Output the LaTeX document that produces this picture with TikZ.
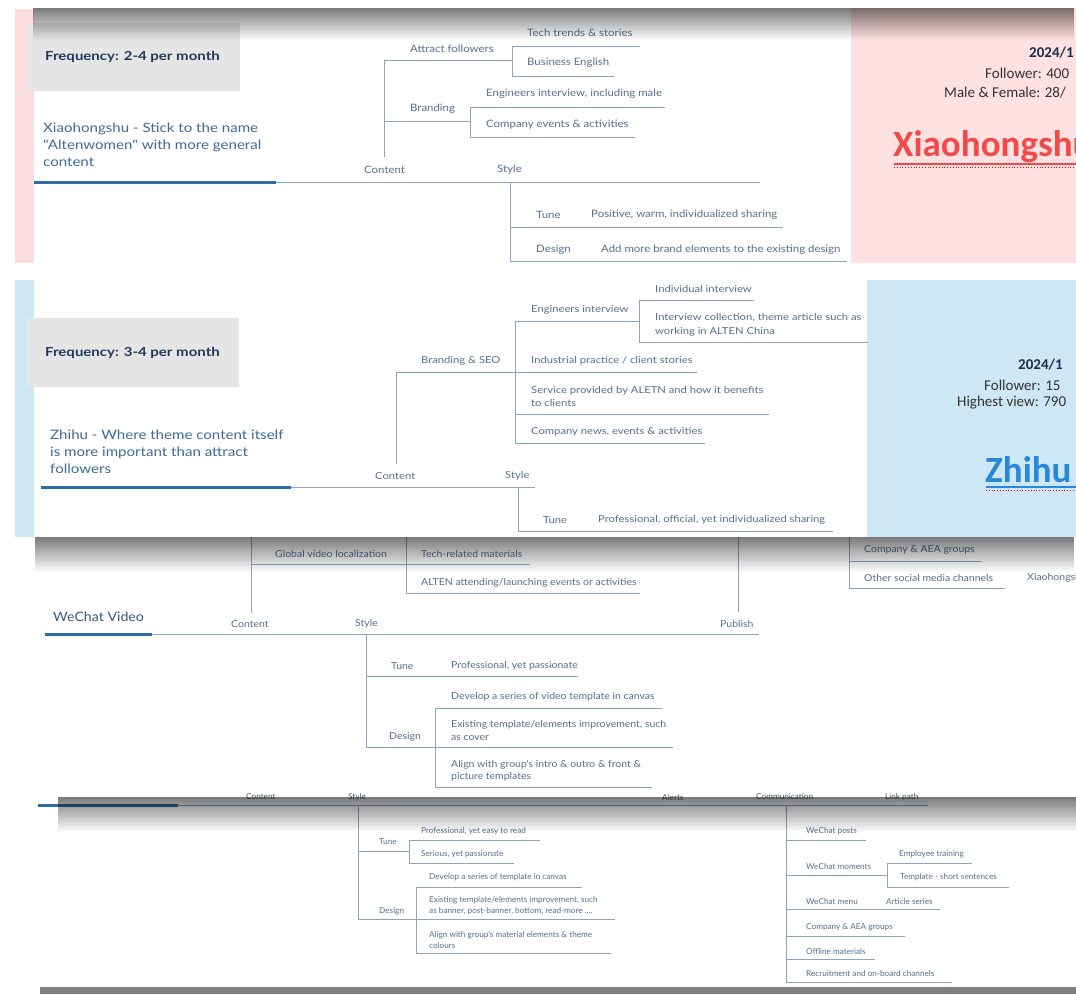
\documentclass[tikz,border=0pt]{standalone}
\usepackage{fontspec}
\setmainfont{Lato}
\newfontfamily\calfont{Carlito}
\newfontfamily\fA[FakeStretch=1.12]{Lato}
\newfontfamily\fB[FakeStretch=1.17]{Lato}
\newfontfamily\fC[FakeStretch=1.09]{Lato}
\newfontfamily\fH[FakeStretch=1.16]{Lato}
\newfontfamily\fF[FakeStretch=1.2]{Lato}
\usetikzlibrary{fadings}
\definecolor{linec}{HTML}{8AA4C2}
\definecolor{txtc}{HTML}{56708F}
\definecolor{headc}{HTML}{3E6B98}
\definecolor{navy}{HTML}{1F3A5C}
\definecolor{thickc}{HTML}{2E6DA4}
\definecolor{boxg}{HTML}{E5E5E5}
\definecolor{pinkp}{HTML}{FFE1E1}
\definecolor{pinks}{HTML}{FDDCDC}
\definecolor{bluep}{HTML}{CDE8F4}
\definecolor{redt}{HTML}{F24A4A}
\definecolor{bluet}{HTML}{2787DA}
\definecolor{panelt}{HTML}{333333}
\definecolor{shtxt}{HTML}{505A66}
\begin{document}
\begin{tikzpicture}[x=1pt,y=-1pt,
  ln/.style={draw=linec,line width=0.9pt},
  thk/.style={draw=thickc,line width=3pt},
  lbbase/.style={text=txtc,inner sep=0pt,anchor=west,align=left},
  lbA/.style={lbbase,font=\fA\fontsize{10.2}{13}\selectfont},
  lbB/.style={lbbase,font=\fB\fontsize{9.6}{13.5}\selectfont},
  lbC/.style={lbbase,font=\fC\fontsize{9.6}{12.5}\selectfont},
  lbD/.style={lbbase,font=\fontsize{8.2}{11}\selectfont},
  hd/.style={inner sep=0pt,anchor=west,align=left,text=headc,font=\fH\fontsize{13}{17}\selectfont},
  freq/.style={inner sep=0pt,anchor=west,text=navy,font=\fF\bfseries\fontsize{12.5}{15}\selectfont},
  pnl/.style={inner sep=0pt,anchor=west,text=panelt,font=\calfont\fontsize{15}{17}\selectfont},
  pnlb/.style={pnl,font=\calfont\bfseries\fontsize{15}{17}\selectfont,text=navy!80!black},
  big/.style={inner sep=0pt,anchor=west,font=\calfont\bfseries\fontsize{37}{42}\selectfont},
  shadow/.style={fill=black,fill opacity=0.52,path fading=south}
]
\useasboundingbox (0,0) rectangle (1076,994);
\fill[white] (0,0) rectangle (1076,994);

% ================= Slide 1: Xiaohongshu =================
\fill[pinks] (15,9) rectangle (34,263);
\fill[pinkp] (851,8) rectangle (1076,263);
\fill[boxg] (27,23) rectangle (240,91);
\node[freq] (f1) at (45,57) {Frequency: 2-4 per month};
\node[hd] (h1) at (43,145) {Xiaohongshu - Stick to the name\\"Altenwomen" with more general\\content};
\draw[thk] (34,182) -- (276,182);
\draw[ln] (276,182) -- (760,182);
\draw[ln] (384,157) -- (384,60) -- (512,60);
\draw[ln] (384,121) -- (470,121);
\draw[ln] (640,46) -- (512,46) -- (512,76) -- (614,76);
\draw[ln] (665,107) -- (470,107) -- (470,137) -- (635,137);
\draw[ln] (510,182) -- (510,261) -- (847,261);
\draw[ln] (510,227) -- (783,227);
\node[lbA] (a1) at (410,49) {Attract followers};
\node[lbA] (a2) at (527,33) {Tech trends \& stories};
\node[lbA] (a3) at (527,63) {Business English};
\node[lbA] (a4) at (410,109) {Branding};
\node[lbA] (a5) at (486,94) {Engineers interview, including male};
\node[lbA] (a6) at (486,125) {Company events \& activities};
\node[lbA] (a7) at (364,170) {Content};
\node[lbA] (a8) at (497,170) {Style};
\node[lbA] (a9) at (536,215) {Tune};
\node[lbA] (a10) at (591,215) {Positive, warm, individualized sharing};
\node[lbA] (a11) at (536,250) {Design};
\node[lbA] (a12) at (601,250) {Add more brand elements to the existing design};
\node[pnlb] (p1) at (1029,53) {2024/1};
\node[pnl] (p2) at (985,73) {Follower: 400};
\node[pnl] (p3) at (944,93) {Male \& Female: 28/};
\node[big,text=redt] (p4) at (893,147) {Xiaohongshu};
\draw[redt,line width=1.4pt] (894,164) -- (1076,164);
\draw[red,line width=0.8pt,dotted] (894,167.5) -- (1076,167.5);

% ================= Slide 2: Zhihu =================
\fill[bluep] (15,280) rectangle (34,537);
\fill[bluep] (867,280) rectangle (1076,537);
\fill[boxg] (27,318) rectangle (239,387);
\node[freq] (f2) at (45,353) {Frequency: 3-4 per month};
\node[hd] (h2) at (50,452) {Zhihu - Where theme content itself\\is more important than attract\\followers};
\draw[thk] (41,487) -- (291,487);
\draw[ln] (291,487) -- (535,487);
\draw[ln] (396,464) -- (396,372) -- (697,372);
\draw[ln] (639,321) -- (515,321) -- (515,443) -- (705,443);
\draw[ln] (515,414) -- (769,414);
\draw[ln] (754,300) -- (639,300) -- (639,342) -- (868,342);
\draw[ln] (518,487) -- (518,531) -- (833,531);
\node[lbB] (b1) at (421,361) {Branding \& SEO};
\node[lbB] (b2) at (531,310) {Engineers interview};
\node[lbB] (b3) at (655,289) {Individual interview};
\node[lbB] (b4) at (655,325) {Interview collection, theme article such as\\working in ALTEN China};
\node[lbB] (b5) at (531,361) {Industrial practice / client stories};
\node[lbB] (b6) at (531,396.5) {Service provided by ALETN and how it benefits\\to clients};
\node[lbB] (b7) at (531,432) {Company news, events \& activities};
\node[lbB] (b8) at (375,476) {Content};
\node[lbB] (b9) at (505,476) {Style};
\node[lbB] (b10) at (543,520) {Tune};
\node[lbB] (b11) at (598,520) {Professional, official, yet individualized sharing};
\node[pnlb] (q1) at (1018,365) {2024/1};
\node[pnl] (q2) at (984,385) {Follower: 15};
\node[pnl] (q3) at (957,403) {Highest view: 790};
\node[big,text=bluet] (q4) at (985,470) {Zhihu};
\draw[bluet,line width=1.4pt] (986,487) -- (1076,487);
\draw[red,line width=0.8pt,dotted] (986,490.5) -- (1076,490.5);

% ================= Slide 3: WeChat Video =================
\draw[ln] (251,537) -- (251,613);
\draw[ln] (251,564) -- (530,564);
\draw[ln] (406,537) -- (406,593) -- (640,593);
\draw[ln] (738,537) -- (738,612);
\draw[thk] (45,634) -- (152,634);
\draw[ln] (152,634) -- (759,634);
\draw[ln] (849,537) -- (849,588) -- (1005,588);
\draw[ln] (849,561) -- (982,561);
\draw[ln] (366,634) -- (366,747) -- (673,747);
\draw[ln] (366,676) -- (578,676);
\draw[ln] (662,708) -- (435,708) -- (435,787) -- (652,787);
\node[lbC] (c1) at (275,554) {Global video localization};
\node[lbC] (c2) at (421,554) {Tech-related materials};
\node[lbC] (c3) at (421,583) {ALTEN attending/launching events or activities};
\node[hd,font=\fC\fontsize{13}{17}\selectfont,text=headc!85!black] (c4) at (53,617) {WeChat Video};
\node[lbC] (c5) at (231,624) {Content};
\node[lbC] (c6) at (355,624) {Style};
\node[lbC] (c7) at (720,624) {Publish};
\node[lbC] (c8) at (864,550) {Company \& AEA groups};
\node[lbC] (c9) at (864,578) {Other social media channels};
\node[lbC] (c10) at (1027,578) {Xiaohongshu};
\node[lbC] (c11) at (391,666) {Tune};
\node[lbC] (c12) at (451,666) {Professional, yet passionate};
\node[lbC] (c13) at (389,737) {Design};
\node[lbC] (c14) at (451,697) {Develop a series of video template in canvas};
\node[lbC] (c15) at (451,730.5) {Existing template/elements improvement, such\\as cover};
\node[lbC] (c16) at (451,771) {Align with group's intro \& outro \& front \&\\picture templates};

% ================= Slide 4: WeChat posts =================
\draw[thk] (38,805) -- (178,805);
\draw[ln] (178,805) -- (928,805);
\draw[ln] (358,805) -- (358,919) -- (615,919);
\draw[ln] (358,851) -- (409,851);
\draw[ln] (540,840) -- (409,840) -- (409,863) -- (514,863);
\draw[ln] (582,887) -- (416,887) -- (416,953) -- (611,953);
\draw[ln] (786,805) -- (786,982) -- (952,982);
\draw[ln] (786,840) -- (866,840);
\draw[ln] (786,875) -- (887,875);
\draw[ln] (972,863) -- (887,863) -- (887,887) -- (1009,887);
\draw[ln] (786,909) -- (940,909);
\draw[ln] (786,936) -- (905,936);
\draw[ln] (786,959) -- (875,959);
\node[lbD,text=shtxt] (d1) at (246,797) {Content};
\node[lbD,text=shtxt] (d2) at (348,797) {Style};
\node[lbD,text=shtxt] (d3) at (662,797) {Alerts};
\node[lbD,text=shtxt] (d4) at (756,797) {Communication};
\node[lbD,text=shtxt] (d5) at (885,797) {Link path};
\node[lbD] (d6) at (379,842) {Tune};
\node[lbD] (d7) at (421,831) {Professional, yet easy to read};
\node[lbD] (d8) at (421,854) {Serious, yet passionate};
\node[lbD] (d9) at (379,911) {Design};
\node[lbD] (d10) at (429,877) {Develop a series of template in canvas};
\node[lbD] (d11) at (429,905.5) {Existing template/elements improvement, such\\as banner, post-banner, bottom, read-more ....};
\node[lbD] (d12) at (429,939.5) {Align with group's material elements \& theme\\colours};
\node[lbD] (d13) at (806,831) {WeChat posts};
\node[lbD] (d14) at (806,866) {WeChat moments};
\node[lbD] (d15) at (899,854) {Employee training};
\node[lbD] (d16) at (900,877) {Template - short sentences};
\node[lbD] (d17) at (806,901) {WeChat menu};
\node[lbD] (d18) at (886,901) {Article series};
\node[lbD] (d19) at (806,927) {Company \& AEA groups};
\node[lbD] (d20) at (806,951) {Offline materials};
\node[lbD] (d21) at (806,973) {Recruitment and on-board channels};

% ================= shadows =================
\fill[shadow] (34,8) rectangle (1076,40);
\fill[shadow] (36,537) rectangle (1076,572);
\fill[shadow] (58,797) rectangle (1076,832);
\fill[black,fill opacity=0.5] (40,987) rectangle (1076,994);
\end{tikzpicture}
\end{document}
